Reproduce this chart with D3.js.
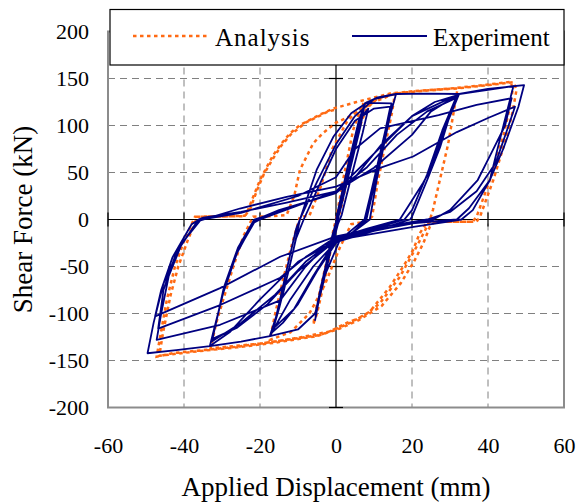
<!DOCTYPE html>
<html>
<head>
<meta charset="utf-8">
<script src="https://cdn.jsdelivr.net/npm/d3@7"></script>
<style>
  body { margin: 0; background: #ffffff; }
  svg { display: block; font-family: "Liberation Serif", "Times New Roman", serif; }
</style>
</head>
<body>
<svg id="chart" width="578" height="502"></svg>
<script>
// axis ticks
const xTicks = [-60, -40, -20, 0, 20, 40, 60];
const yTicks = [-200, -150, -100, -50, 0, 50, 100, 150, 200];

// Analysis curve, [displacement mm, shear force kN]
const ana5 = [[0, 0], [2, 45], [4.5, 95], [6.5, 118], [7.2, 124], [6, 100], [3.5, 55], [1.5, 15], [0.5, 0],
  [-1, -25], [-3, -65], [-5, -100], [-6, -112], [-5, -90], [-2.5, -45], [-0.5, -8], [0, 0]];
const ana15 = [[2, 30], [5, 85], [8, 118], [11, 129], [15.5, 134], [14.8, 115], [13, 80], [11, 40], [9.5, 3],
  [8, -2], [4, -5], [1, -30], [-3, -70], [-7, -100], [-12, -120], [-17.4, -128], [-16, -100], [-14, -65],
  [-11.5, -25], [-9.5, 3], [-7, 4], [-4, 35], [-1, 75], [3, 105], [8, 124], [15, 133]];
const ana30 = [[20.4, 136], [26, 138], [32, 139.5], [31, 115], [29.5, 80], [27.5, 45], [25.5, 10], [24.5, -3],
  [23, -15], [21.2, -29], [16.8, -61], [11.6, -89], [7.2, -103], [2.8, -110], [-1.6, -119], [-10, -126],
  [-20, -132], [-33, -137], [-31.5, -110], [-29.7, -85.6], [-27, -50], [-24.4, -18], [-21.8, 3], [-17, 3.5],
  [-13, 4.8], [-11, 25], [-9.5, 52.7], [-6, 81], [-3.4, 92], [0, 103], [3.7, 110], [10, 125], [15.5, 134]];
const ana45 = [[20.4, 136], [32, 139.5], [40, 143], [46.7, 146], [47.5, 138], [46.5, 115], [44.9, 88], [41.4, 42],
  [37.9, 3], [37, -2.3], [30, -2.3], [24, -2.5], [22, -15], [20.3, -32.4], [17.7, -50], [14.2, -71.5], [8.9, -98],
  [3.7, -110], [-0.7, -117.5], [-4.2, -123], [-16.5, -130], [-25.3, -135], [-35, -139], [-42.8, -142], [-47.2, -146],
  [-46.3, -125], [-44.5, -85], [-42.5, -52], [-40.2, -25], [-37.1, 3], [-30, 3.2], [-24, 4], [-23.5, 6.6],
  [-21.8, 24], [-20, 42], [-18.2, 56], [-16.5, 68.6], [-14.3, 81], [-12.1, 91.7], [-9.5, 100.5], [-4, 112],
  [-0.7, 118], [5.4, 125], [14.2, 134], [20.4, 136.5], [31.8, 140], [40, 143.5], [46, 146.5],
  [46.5, 138], [45.5, 115], [44, 88], [40.5, 42], [37, 3], [36, -2.3], [26, -2.3], [24.7, -7.6], [23, -25],
  [20.5, -45], [17, -68], [12, -92], [6, -107], [1, -116], [-5, -124], [-16, -131], [-26, -136], [-36, -140],
  [-46.5, -145], [-45.5, -120], [-43.5, -80], [-41.5, -50], [-39, -22], [-36.5, 3], [-24, 3.5], [-22.5, 12],
  [-20.8, 31], [-19, 48], [-17, 62], [-14.5, 78], [-12, 90], [-8, 103], [-2, 115], [0, 117]];

// Experiment curve
const exp5 = [[0, 0], [3, 55], [6, 105], [7.6, 123.6], [6.5, 100], [3.5, 50], [1, 8], [0.2, 0], [-1.5, -25],
  [-3.5, -65], [-5.5, -107], [-4.5, -85], [-2, -40], [0, -5], [0.5, 0], [3.5, 55], [6.5, 108], [8.5, 118],
  [7, 92], [4, 45], [1.5, 5], [0.5, -5], [-1.5, -35], [-3.5, -70], [-5.2, -96], [-4, -72], [-1.5, -28], [0.3, -2]];
const exp15 = [[3, 45], [6, 100], [7.6, 123.6], [11, 130], [15.8, 133.5], [14.2, 110], [12.5, 77], [10.7, 42],
  [8.9, 0], [5, -12], [1, -22], [-3, -60], [-5.5, -100], [-10, -117], [-17.4, -124], [-15.5, -100],
  [-13.9, -78.5], [-11.2, -32.4], [-9.5, 0], [-5.1, 52.7], [-0.7, 88], [4, 113], [8, 124], [14.6, 123.6],
  [13.5, 100], [12, 70], [10, 35], [8, 0], [4, -15], [0, -25], [-5, -55], [-10, -90], [-14, -110], [-16.8, -120],
  [-15, -95], [-12.5, -55], [-10.5, -20], [-8.5, 0], [-4, 40], [0, 75], [5, 105], [10, 118], [14.3, 120],
  [13, 95], [11, 60], [9, 25], [7.5, 0], [3, -15], [-1, -28], [-6, -60], [-11, -95], [-16.5, -116],
  [-15, -90], [-12.5, -45], [-10.5, -10], [-9.5, 0]];
const exp30 = [[-5, 40], [0, 80], [5, 110], [10, 128], [15.8, 133.5], [24, 134], [32.4, 133.5], [29.6, 106],
  [27.4, 77], [24, 42], [20, 3], [19.5, 0], [10, -12], [0, -24], [-6, -50], [-12, -85], [-17.4, -124],
  [-25, -130], [-33.2, -134.6], [-29.7, -78.5], [-26.1, -36], [-21.8, -4], [-21, 0], [-15, 10], [-5, 22],
  [0, 28], [5, 45], [12, 80], [20, 110], [26, 125], [31.8, 132], [28.5, 95], [24.7, 52], [22.9, 38.8],
  [16.8, 0], [8, -10], [0, -20], [-8, -45], [-16, -80], [-25, -110], [-32.8, -130], [-29.5, -75],
  [-25.8, -33], [-21.5, -3], [-20, 0], [-10, 15], [0, 30], [8, 55], [16, 90], [24, 115], [31.5, 129],
  [28, 95], [24, 48], [20, 10], [18, 0], [8, -12], [0, -22], [-10, -55], [-18, -90], [-26, -115],
  [-32.5, -127], [-29.5, -72], [-25.8, -30], [-21.5, 0]];
const exp45 = [[-10, 15], [0, 30], [10, 70], [20, 110], [32.4, 133.5], [40, 138], [46.7, 142], [45, 115],
  [42.5, 75], [40.5, 42], [36, 10], [33, 0], [20, -8], [10, -15], [0, -22], [-10, -45], [-20, -85],
  [-28, -120], [-33.2, -134.6], [-42, -139], [-49.6, -142.3], [-48, -110], [-45.4, -68], [-41, -29],
  [-36.2, 0], [-34.9, 2], [-25, 8], [-13, 18], [0, 30], [10, 55], [20, 90], [25, 115], [32.4, 133.5],
  [40, 139], [49.5, 143], [48, 120], [44, 75], [40.5, 42], [35, 12], [31.8, 0], [20, -4], [10, -12],
  [-1.6, -24], [-8, -50], [-14.7, -86], [-30.5, -112], [-47.2, -128], [-46, -100], [-44, -60], [-40.5, -25],
  [-35.5, 0], [-25, 7], [-10, 25], [0, 45], [5, 75], [11.6, 97], [27, 111], [37, 122], [46.2, 129],
  [44.5, 100], [41.3, 74], [37.3, 42], [30, 10], [25.6, 0], [15, -8], [5, -15], [-1.6, -23], [-8, -40],
  [-14.7, -62], [-30.5, -91], [-46.8, -116], [-45.4, -75], [-42, -35], [-36.5, -2], [-25.3, 11.7],
  [-13, 24], [0, 35], [11.6, 55], [20.3, 67], [31.8, 93], [40, 108], [47.1, 120], [45, 95], [42, 60],
  [37, 30], [30, 8], [24, 0], [12, -8], [0, -18], [-14.7, -39.6], [-30.5, -73], [-47.6, -103], [-46, -75],
  [-43, -40], [-38, -5], [-36, 0]];

const analysis = [...ana5, ...ana15, ...ana30, ...ana45];
const experiment = [...exp5, ...exp15, ...exp30, ...exp45];

const svg = d3.select("#chart");
const margin = { left: 108, right: 14, top: 31.5, bottom: 94.5 };
const width = +svg.attr("width");
const height = +svg.attr("height");

const x = d3.scaleLinear().domain([-60, 60]).range([margin.left, width - margin.right]);
const y = d3.scaleLinear().domain([-200, 200]).range([height - margin.bottom, margin.top]);

// dashed grid
svg.append("g")
    .selectAll("line")
    .data(xTicks.filter(d => d !== 0 && Math.abs(d) !== 60))
    .join("line")
    .attr("x1", d => x(d)).attr("x2", d => x(d))
    .attr("y1", y(200)).attr("y2", y(-200))
    .attr("stroke", "#808080").attr("stroke-width", 1).attr("stroke-dasharray", "7,5");

svg.append("g")
    .selectAll("line")
    .data(yTicks.filter(d => d !== 0 && Math.abs(d) !== 200))
    .join("line")
    .attr("x1", x(-60)).attr("x2", x(60))
    .attr("y1", d => y(d)).attr("y2", d => y(d))
    .attr("stroke", "#808080").attr("stroke-width", 1).attr("stroke-dasharray", "7,5");

// plot frame
svg.append("rect")
    .attr("x", x(-60)).attr("y", y(200))
    .attr("width", x(60) - x(-60)).attr("height", y(-200) - y(200))
    .attr("fill", "none").attr("stroke", "#8c8c8c").attr("stroke-width", 2);

// zero axes with cross ticks
svg.append("line")
    .attr("x1", x(0)).attr("x2", x(0)).attr("y1", y(200)).attr("y2", y(-200))
    .attr("stroke", "#000").attr("stroke-width", 1.2);
svg.append("line")
    .attr("x1", x(-60)).attr("x2", x(60)).attr("y1", y(0)).attr("y2", y(0))
    .attr("stroke", "#000").attr("stroke-width", 1.2);

svg.append("g")
    .selectAll("line")
    .data(yTicks)
    .join("line")
    .attr("x1", x(0) - 7).attr("x2", x(0) + 7)
    .attr("y1", d => y(d)).attr("y2", d => y(d))
    .attr("stroke", "#000").attr("stroke-width", 1.2);

svg.append("g")
    .selectAll("line")
    .data(xTicks)
    .join("line")
    .attr("x1", d => x(d)).attr("x2", d => x(d))
    .attr("y1", y(0) - 7).attr("y2", y(0) + 7)
    .attr("stroke", "#000").attr("stroke-width", 1.2);

// curves
const line = d3.line()
    .x(d => x(d[0]))
    .y(d => y(d[1]));

svg.append("path")
    .datum(analysis)
    .attr("fill", "none")
    .attr("stroke", "#ff6a13")
    .attr("stroke-width", 2.5)
    .attr("stroke-dasharray", "3.5,3.5")
    .attr("d", line);

svg.append("path")
    .datum(experiment)
    .attr("fill", "none")
    .attr("stroke", "#000080")
    .attr("stroke-width", 1.8)
    .attr("stroke-linejoin", "round")
    .attr("d", line);

// tick labels (plain hyphen minus, as in the original)
svg.append("g")
    .attr("transform", `translate(0, ${height - margin.bottom})`)
    .call(d3.axisBottom(x).tickValues(xTicks).tickSize(0).tickPadding(30).tickFormat(d => String(d)))
    .call(g => g.select(".domain").remove())
    .call(g => g.selectAll("text")
        .attr("font-family", "Liberation Serif")
        .attr("font-size", "22px")
        .attr("fill", "#000"));

svg.append("g")
    .attr("transform", `translate(${margin.left}, 0)`)
    .call(d3.axisLeft(y).tickValues(yTicks).tickSize(0).tickPadding(19).tickFormat(d => String(d)))
    .call(g => g.select(".domain").remove())
    .call(g => g.selectAll("text")
        .attr("font-family", "Liberation Serif")
        .attr("font-size", "22px")
        .attr("fill", "#000"));

// axis titles
svg.append("text")
    .attr("x", (x(-60) + x(60)) / 2)
    .attr("y", 496)
    .attr("text-anchor", "middle")
    .attr("font-size", "27px")
    .text("Applied Displacement (mm)");

svg.append("text")
    .attr("transform", `translate(32, ${(y(-200) + y(200)) / 2}) rotate(-90)`)
    .attr("text-anchor", "middle")
    .attr("font-size", "27px")
    .text("Shear Force (kN)");

// legend
const legend = svg.append("g");
legend.append("rect")
    .attr("x", 110).attr("y", 9.5)
    .attr("width", 454).attr("height", 55.5)
    .attr("fill", "#fff").attr("stroke", "#000").attr("stroke-width", 1.2);

legend.append("line")
    .attr("x1", 133).attr("x2", 210).attr("y1", 36).attr("y2", 36)
    .attr("stroke", "#ff6a13").attr("stroke-width", 2.5).attr("stroke-dasharray", "3.5,3.5");
legend.append("text")
    .attr("x", 215).attr("y", 46)
    .attr("font-size", "25px")
    .attr("letter-spacing", "1px")
    .text("Analysis");

legend.append("line")
    .attr("x1", 352).attr("x2", 427).attr("y1", 36).attr("y2", 36)
    .attr("stroke", "#000080").attr("stroke-width", 1.8);
legend.append("text")
    .attr("x", 433).attr("y", 46)
    .attr("font-size", "25px")
    .text("Experiment");
</script>
</body>
</html>
